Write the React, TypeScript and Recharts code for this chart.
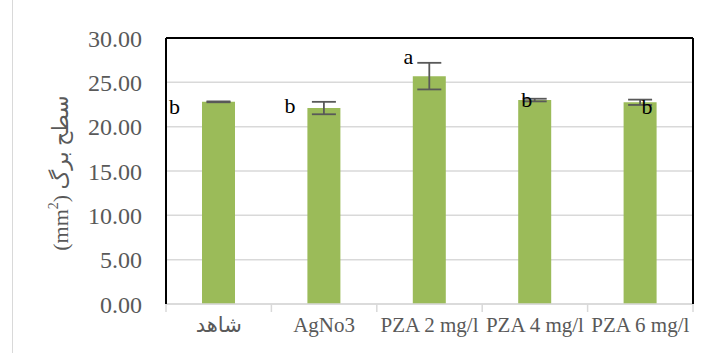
import React from 'react';
import { BarChart, Bar, XAxis, YAxis, CartesianGrid, ErrorBar, LabelList } from 'recharts';

// داده‌ها
const categories = ['شاهد', 'AgNo3', 'PZA 2 mg/l', 'PZA 4 mg/l', 'PZA 6 mg/l'];
const leafArea = [22.8, 22.1, 25.7, 23.0, 22.75];
const leafAreaErr = [0.05, 0.7, 1.5, 0.15, 0.3];
const groupLetters = ['b', 'b', 'a', 'b', 'b'];
const yTicks = [0, 5, 10, 15, 20, 25, 30];

// جای حروف نسبت به مرکز و بالای ستون
const letterOffsets = [
    { dx: -44, dy: 7 },
    { dx: -34, dy: 0 },
    { dx: -21, dy: -17 },
    { dx: -8, dy: 2 },
    { dx: 7, dy: 7 },
];

const FONT = 'Liberation Serif, DejaVu Sans, serif';
const PLOT_W = 710 - 166 - 17;
const HALF_BAND = PLOT_W / categories.length / 2;

const chartData = categories.map((name, i) => ({
    name,
    value: leafArea[i],
    err: leafAreaErr[i],
    letter: groupLetters[i],
}));

// برچسب محور x همراه با خط‌های مرز دسته‌ها
const CategoryTick = (props: any) => {
    const { x, y, payload, index } = props;
    const isLast = index === categories.length - 1;
    return (
        <g>
            <line x1={x - HALF_BAND} y1={y} x2={x - HALF_BAND} y2={y + 8} stroke="#d9d9d9" strokeWidth={1.5} />
            {isLast && (
                <line x1={x + HALF_BAND} y1={y} x2={x + HALF_BAND} y2={y + 8} stroke="#d9d9d9" strokeWidth={1.5} />
            )}
            <text
                x={x}
                y={y + 28}
                textAnchor="middle"
                style={{ fontFamily: FONT, fontSize: 21 }}
                fill="#595959"
            >
                {payload.value}
            </text>
        </g>
    );
};

const LetterLabel = (props: any) => {
    const { x, y, width, index, value } = props;
    const off = letterOffsets[index] || { dx: 0, dy: -10 };
    return (
        <text
            x={x + width / 2 + off.dx}
            y={y + off.dy}
            textAnchor="middle"
            dominantBaseline="middle"
            style={{ fontFamily: FONT, fontSize: 22 }}
            fill="#000"
        >
            {value}
        </text>
    );
};

const YTitle = (props: any) => {
    const { viewBox } = props;
    const cx = 63;
    const cy = viewBox.y + viewBox.height / 2 + 2;
    return (
        <text
            x={cx}
            y={cy}
            transform={`rotate(-90 ${cx} ${cy})`}
            textAnchor="middle"
            dominantBaseline="middle"
            style={{ fontFamily: FONT, fontSize: 22 }}
            fill="#595959"
        >
            (mm<tspan dy={-8} style={{ fontSize: 14 }}>2</tspan><tspan dy={8}>) سطح برگ</tspan>
        </text>
    );
};

export default function App() {
    return (
        <div style={{ position: 'absolute', left: 0, top: 0, width: 710, height: 353, background: '#fff' }}>
            <div style={{ position: 'absolute', left: 12, top: 0, width: 1, height: 353, background: '#d9d9d9' }} />
            <BarChart
                width={710}
                height={353}
                data={chartData}
                margin={{ top: 37, right: 16, bottom: 0, left: 0 }}
                barCategoryGap="34%"
            >
                <CartesianGrid vertical={false} stroke="#d9d9d9" strokeWidth={1.5} />
                <XAxis
                    dataKey="name"
                    height={49}
                    axisLine={{ stroke: '#d9d9d9', strokeWidth: 1.5 }}
                    tickLine={false}
                    tickSize={0}
                    tickMargin={0}
                    interval={0}
                    tick={<CategoryTick />}
                />
                <XAxis
                    xAxisId="top"
                    orientation="top"
                    dataKey="name"
                    height={1}
                    tick={false}
                    tickLine={false}
                    axisLine={{ stroke: '#000', strokeWidth: 2 }}
                />
                <YAxis
                    width={166}
                    domain={[0, 30]}
                    ticks={yTicks}
                    interval={0}
                    tickFormatter={(v: number) => v.toFixed(2)}
                    tickLine={false}
                    tickMargin={18}
                    axisLine={{ stroke: '#000', strokeWidth: 2 }}
                    tick={{ fill: '#595959', fontSize: 24, fontFamily: FONT }}
                    label={<YTitle />}
                />
                <YAxis
                    yAxisId="right"
                    orientation="right"
                    width={1}
                    domain={[0, 30]}
                    tick={false}
                    tickLine={false}
                    axisLine={{ stroke: '#000', strokeWidth: 2 }}
                />
                <Bar dataKey="value" fill="#9bbb59" barSize={33} isAnimationActive={false}>
                    <ErrorBar dataKey="err" width={12} stroke="#595959" strokeWidth={1.8} />
                    <LabelList dataKey="letter" content={<LetterLabel />} />
                </Bar>
            </BarChart>
        </div>
    );
}
